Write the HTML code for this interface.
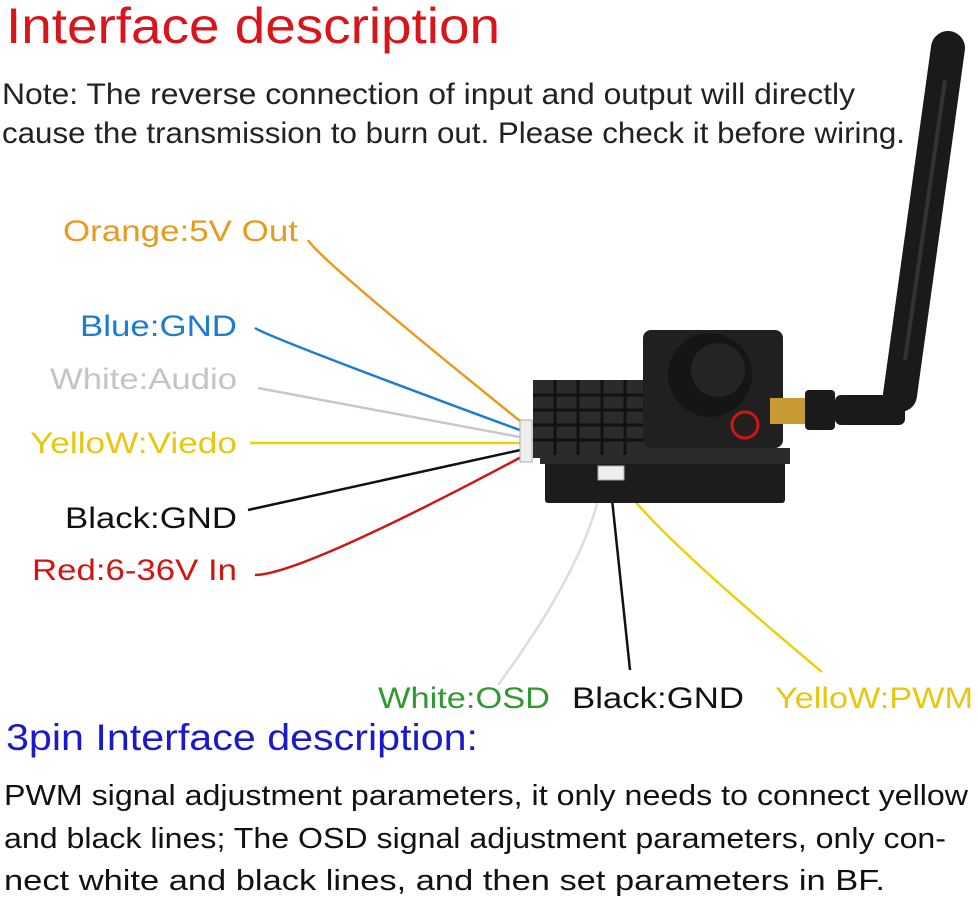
<!DOCTYPE html><html><head><meta charset="utf-8"><style>
body{margin:0;background:#fff;width:978px;height:898px;overflow:hidden}
svg{display:block}
text{font-family:"Liberation Sans",sans-serif}
</style></head><body>
<svg width="978" height="898" viewBox="0 0 978 898">
<text x="6" y="43" font-size="50" fill="#d9151b" textLength="494" lengthAdjust="spacingAndGlyphs">Interface description</text>
<text x="2" y="104" font-size="30" fill="#222" textLength="853" lengthAdjust="spacingAndGlyphs">Note: The reverse connection of input and output will directly</text>
<text x="2" y="143" font-size="30" fill="#222" textLength="903" lengthAdjust="spacingAndGlyphs">cause the transmission to burn out. Please check it before wiring.</text>
<!-- antenna -->
<line x1="900" y1="395" x2="948" y2="48" stroke="#1a1a1a" stroke-width="34" stroke-linecap="round"/>
<line x1="905" y1="360" x2="945" y2="80" stroke="#444" stroke-width="4" opacity=".6"/>
<!-- wires -->
<g fill="none" stroke-width="2.5">
<path d="M308,240 Q320,260 525,425" stroke="#e89a1d"/>
<path d="M255,328 Q270,338 525,432" stroke="#1b7dd1"/>
<path d="M258,388 L525,438" stroke="#c8c8c8"/>
<path d="M250,443 L525,443" stroke="#e8d20e"/>
<path d="M248,510 L525,449" stroke="#111"/>
<path d="M255,575 Q300,575 525,455" stroke="#d01515"/>
<path d="M602,480 Q590,560 498,685" stroke="#ddd"/>
<path d="M610,480 Q618,560 630,670" stroke="#111"/>
<path d="M620,480 Q640,520 822,672" stroke="#e8d20e"/>
</g>
<!-- device -->
<rect x="545" y="455" width="240" height="48" fill="#1c1c1c" rx="3"/>
<rect x="540" y="448" width="250" height="16" fill="#2a2a2a"/>
<rect x="533" y="380" width="140" height="78" fill="#2b2b2b"/>
<g stroke="#111" stroke-width="3">
<line x1="555" y1="380" x2="555" y2="455"/><line x1="578" y1="380" x2="578" y2="455"/><line x1="602" y1="380" x2="602" y2="455"/><line x1="625" y1="380" x2="625" y2="455"/>
<line x1="533" y1="395" x2="660" y2="395"/><line x1="533" y1="410" x2="660" y2="410"/><line x1="533" y1="425" x2="660" y2="425"/><line x1="533" y1="440" x2="660" y2="440"/>
</g>
<rect x="643" y="330" width="140" height="118" fill="#202020" rx="8"/>
<circle cx="710" cy="375" r="42" fill="#151515"/>
<circle cx="718" cy="370" r="27" fill="#242424"/>
<circle cx="745" cy="425" r="13" fill="none" stroke="#d01515" stroke-width="3"/>
<rect x="770" y="398" width="40" height="26" fill="#c79a34"/>
<rect x="805" y="390" width="30" height="40" fill="#1a1a1a" rx="4"/>
<rect x="835" y="395" width="70" height="30" fill="#1a1a1a" rx="6"/>
<rect x="520" y="420" width="12" height="42" fill="#eee" stroke="#aaa"/>
<rect x="598" y="466" width="26" height="14" fill="#eee" stroke="#aaa"/>
<!-- labels -->
<g font-size="30" lengthAdjust="spacingAndGlyphs">
<text x="298" y="241" fill="#e89a1d" text-anchor="end" textLength="235" lengthAdjust="spacingAndGlyphs">Orange:5V Out</text>
<text x="237" y="336" fill="#1b7dd1" text-anchor="end" textLength="157" lengthAdjust="spacingAndGlyphs">Blue:GND</text>
<text x="237" y="389" fill="#c4c4c4" text-anchor="end" textLength="187" lengthAdjust="spacingAndGlyphs">White:Audio</text>
<text x="237" y="453" fill="#e8c80e" text-anchor="end" textLength="207" lengthAdjust="spacingAndGlyphs">YelloW:Viedo</text>
<text x="237" y="528" fill="#111" text-anchor="end" textLength="172" lengthAdjust="spacingAndGlyphs">Black:GND</text>
<text x="237" y="580" fill="#d01515" text-anchor="end" textLength="205" lengthAdjust="spacingAndGlyphs">Red:6-36V In</text>
<text x="378" y="708" fill="#2f9a2f" textLength="172" lengthAdjust="spacingAndGlyphs">White:OSD</text>
<text x="572" y="708" fill="#111" textLength="172" lengthAdjust="spacingAndGlyphs">Black:GND</text>
<text x="775" y="708" fill="#e8c80e" textLength="198" lengthAdjust="spacingAndGlyphs">YelloW:PWM</text>
</g>
<text x="6" y="750" font-size="37" fill="#1a1acc" textLength="472" lengthAdjust="spacingAndGlyphs">3pin Interface description:</text>
<text x="4" y="805" font-size="29" fill="#111" textLength="964" lengthAdjust="spacingAndGlyphs">PWM signal adjustment parameters, it only needs to connect yellow</text>
<text x="4" y="848" font-size="29" fill="#111" textLength="942" lengthAdjust="spacingAndGlyphs">and black lines; The OSD signal adjustment parameters, only con-</text>
<text x="4" y="890" font-size="29" fill="#111" textLength="881" lengthAdjust="spacingAndGlyphs">nect white and black lines, and then set parameters in BF.</text>
</svg>
</body></html>
